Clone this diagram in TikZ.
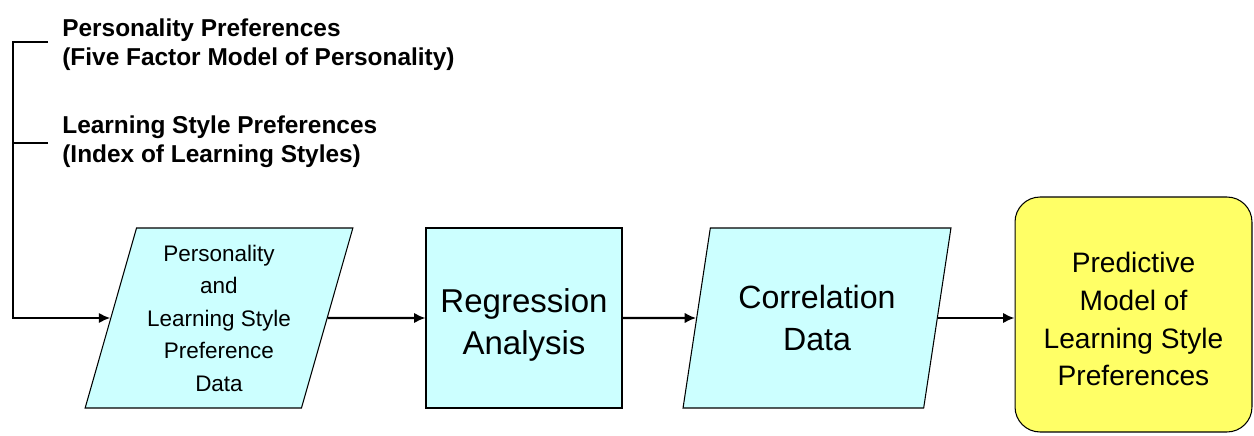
\documentclass[tikz,border=0pt]{standalone}
\usepackage{fontspec}
\setmainfont{Liberation Sans}
\usetikzlibrary{shapes.geometric,arrows.meta}

\definecolor{datacyan}{RGB}{204,255,255}
\definecolor{goalyellow}{RGB}{255,255,102}

\begin{document}
\begin{tikzpicture}[x=0.02cm,y=-0.02cm,
  datanode/.style={draw,line width=0.6pt,fill=datacyan,trapezium,
    trapezium left angle=73,trapezium right angle=107,trapezium stretches=true,
    minimum width=5.36cm,minimum height=3.6cm,inner sep=0pt,align=center},
  procnode/.style={draw,line width=0.6pt,fill=datacyan,
    minimum width=3.92cm,minimum height=3.6cm,inner sep=0pt,align=center},
  goalnode/.style={draw,line width=0.6pt,fill=goalyellow,rounded corners=0.5cm,
    minimum width=4.74cm,minimum height=4.7cm,inner sep=0pt,align=center},
  headnode/.style={inner sep=0pt,align=left,anchor=north west,
    font=\bfseries\fontsize{13.9}{17}\selectfont},
  bar/.style={line width=1.4pt},
  flow/.style={line width=1.4pt,-{Latex[length=6.5pt,width=6pt]}}]
\useasboundingbox (0,0) rectangle (1254,436);

\node[headnode] (perspref) at (62,18) {Personality Preferences\\(Five Factor Model of Personality)};
\node[headnode] (lspref) at (62,115) {Learning Style Preferences\\(Index of Learning Styles)};

\node[datanode,font=\fontsize{12.8}{18.5}\selectfont] (prefdata) at (219,318) {Personality\\and\\Learning Style\\Preference\\Data};
\node[procnode] (regress) at (524,318) {};
\node[font=\fontsize{18.8}{24.4}\selectfont,align=center] (regresstext) at (524,325) {Regression\\Analysis};
\node[datanode,font=\fontsize{18.3}{24}\selectfont] (corrdata) at (817,318) {Correlation\\Data};
\node[goalnode] (model) at (1133.5,314.5) {};
\node[font=\fontsize{16}{21.6}\selectfont,align=center] (modeltext) at (1133.5,319) {Predictive\\Model of\\Learning Style\\Preferences};

\coordinate (tick1) at (48,42);
\coordinate (tick2) at (48,143);
\coordinate (spine) at (13,42);

\draw[bar] (tick2) -- (tick2 -| spine);
\draw[flow] (tick1) -- (spine) |- (prefdata.west);
\draw[flow] (prefdata.east) -- (regress.west);
\draw[flow] (regress.east) -- (corrdata.west);
\draw[flow] (corrdata.east) -- (corrdata.east -| model.west);
\end{tikzpicture}
\end{document}
